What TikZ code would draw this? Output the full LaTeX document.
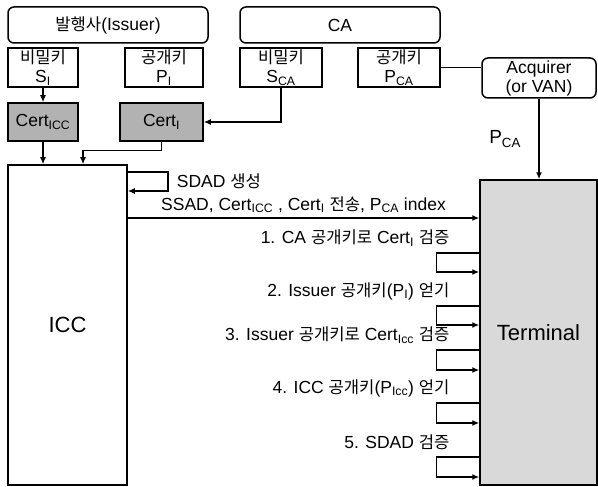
\documentclass[tikz,border=0pt]{standalone}
\usepackage{fontspec}
\setmainfont{Liberation Sans}
\newfontfamily\kr[Scale=0.95]{Noto Sans CJK KR}
\usetikzlibrary{arrows.meta, positioning, calc}
\definecolor{certgray}{gray}{0.70}
\definecolor{termgray}{gray}{0.85}

\begin{document}
\begin{tikzpicture}[
    x=1pt, y=-1pt, >={Latex[length=7pt, width=6pt]},
    font=\fontsize{17.5}{19}\selectfont,
    party/.style={rectangle, rounded corners=6pt, draw, line width=1.5pt, minimum height=36pt, inner sep=0},
    keybox/.style={rectangle, draw, line width=1.5pt, minimum height=39pt, align=center, inner sep=0},
    certbox/.style={rectangle, draw, line width=1.5pt, fill=certgray, minimum height=38pt, inner sep=0},
    actor/.style={rectangle, draw, line width=1.5pt, font=\fontsize{22}{24}\selectfont, inner sep=0},
    leg/.style={line width=1.5pt},
    arr/.style={leg, ->},
    check text/.style={anchor=east}
]
    \useasboundingbox (0,0) rectangle (598,487);

    % =========================================================
    % KEY OWNERS AND KEYS
    % =========================================================
    \node[party, minimum width=200pt] (issuer) at (108,25) {{\kr 발행사}(Issuer)};
    \node[party, minimum width=200pt] (ca) at (340,25) {CA};

    \node[keybox, minimum width=70pt] (SI) at (43,67.5) {{\kr 비밀키}\\S\textsubscript{I}};
    \node[keybox, minimum width=78pt] (PI) at (164,67.5) {{\kr 공개키}\\P\textsubscript{I}};
    \node[keybox, minimum width=82pt] (SCA) at (281,67.5) {{\kr 비밀키}\\S\textsubscript{CA}};
    \node[keybox, minimum width=82pt] (PCA) at (399,67.5) {{\kr 공개키}\\P\textsubscript{CA}};

    \node[party, minimum width=114pt, minimum height=40pt, align=center] (acq) at (539,78) {Acquirer\\(or VAN)};

    % Certificates
    \node[certbox, minimum width=70pt] (certICC) at (43,122) {Cert\textsubscript{ICC}};
    \node[certbox, minimum width=83pt] (certI) at (161.5,122) {Cert\textsubscript{I}};

    % Card and terminal
    \node[actor, minimum width=119pt, minimum height=320pt] (ICC) at (67.5,325) {ICC};
    \node[actor, fill=termgray, minimum width=117pt, minimum height=305pt] (term) at (538.5,332.5) {Terminal};

    % =========================================================
    % CONNECTIONS
    % =========================================================
    \draw[arr] (SI) -- (certICC);
    \draw[arr] (SCA.south) |- (certI);
    \draw[leg] (PCA.east) -- (PCA.east -| acq.west);
    \draw[arr] (acq.south) -- (acq.south |- term.north) node[midway, left=14pt, font=\fontsize{19}{21}\selectfont] (pcalbl) {P\textsubscript{CA}};

    \draw[arr] (certICC) -- (certICC |- ICC.north);
    \draw[arr] (certI.south) -- ++(0,9) -| ([xshift=15.5pt]ICC.north);

    % SDAD generation on the card
    \draw[arr] (ICC.east |- 0,172) -- ++(40,0) -- ++(0,19) node[midway, right=5pt] (sdad) {SDAD {\kr 생성}} -- (ICC.east |- 0,191);

    % Data sent to the terminal
    \draw[arr] (ICC.east |- 0,218) -- (term.west |- 0,218) node[midway, above=1pt] (send) {SSAD, Cert\textsubscript{ICC} , Cert\textsubscript{I} {\kr 전송}, P\textsubscript{CA} index};

    % Checks done in the terminal
    \foreach \ya/\yb/\txt [count=\i] in {
        253/272/{1. CA {\kr 공개키로} Cert\textsubscript{I} {\kr 검증}},
        306/325/{2. Issuer {\kr 공개키}(P\textsubscript{I}) {\kr 얻기}},
        350/370/{3. Issuer {\kr 공개키로} Cert\textsubscript{Icc} {\kr 검증}},
        403/423/{4. ICC {\kr 공개키}(P\textsubscript{Icc}) {\kr 얻기}},
        457/477/{5. SDAD {\kr 검증}}} {
        \draw[arr] (term.west |- 0,\ya) -- ++(-43,0) -- ++(0,{\yb-\ya}) -- (term.west |- 0,\yb);
        \node[check text] (chk\i) at (453,{\ya-15}) {\txt};
    }

\end{tikzpicture}
\end{document}
